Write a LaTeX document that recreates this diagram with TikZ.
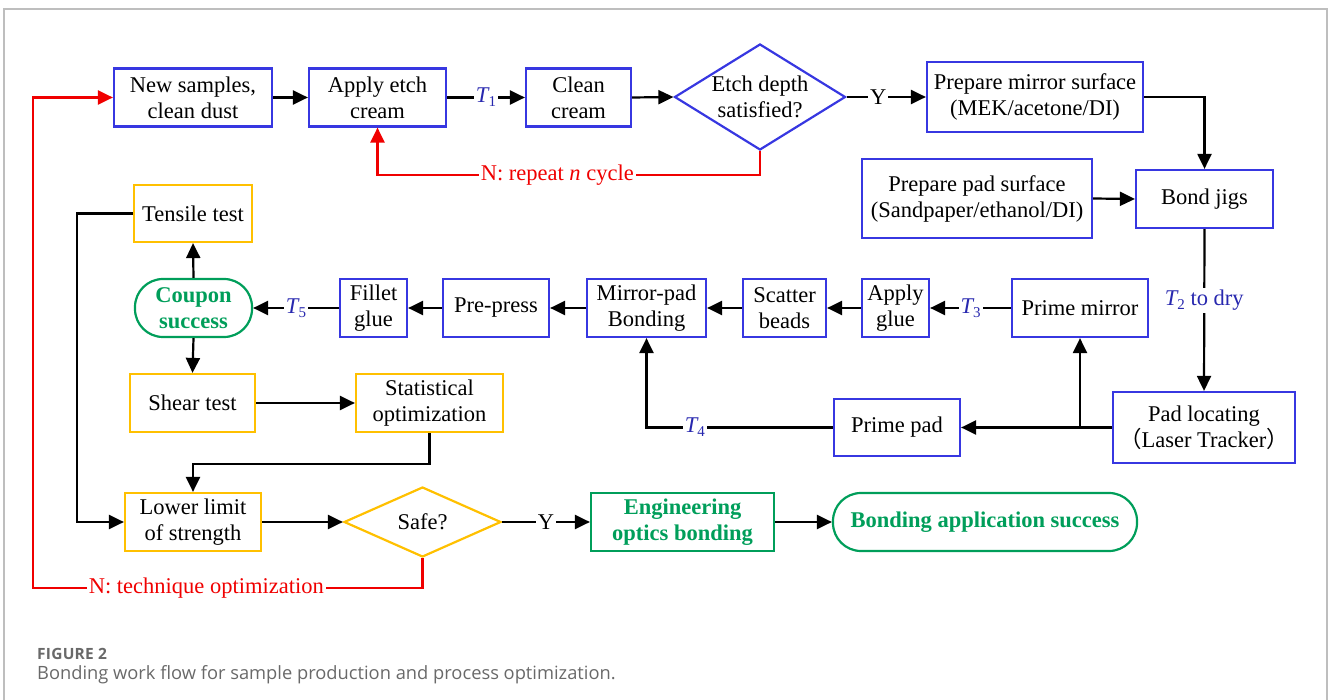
\documentclass[tikz,border=0pt]{standalone}
\usepackage{fontspec}
\setmainfont{Liberation Serif}
\newfontfamily\capfont{Open Sans}
\newfontfamily\capbold{Open Sans}[LetterSpace=1.5]
\newfontfamily\cjkfont{Noto Sans CJK SC}
\usetikzlibrary{arrows.meta,shapes.geometric,calc}
\definecolor{bxblue}{RGB}{55,55,225}
\definecolor{gold}{RGB}{255,192,0}
\definecolor{grn}{RGB}{0,158,90}
\definecolor{tblue}{RGB}{40,40,175}
\definecolor{rred}{RGB}{240,0,0}
\definecolor{framegray}{RGB}{190,190,190}
\definecolor{capgray}{RGB}{105,105,105}
\newcommand{\Tlab}[1]{{\itshape T}\raisebox{-4pt}{\fontsize{15}{15}\selectfont #1}}
\begin{document}
\begin{tikzpicture}[x=1pt,y=-1pt,
  sz/.style 2 args={minimum width=#1pt, minimum height=#2pt},
  box/.style={draw=bxblue, line width=2.2pt, align=center, inner sep=0pt, font=\fontsize{22.5}{26}\selectfont},
  ybox/.style={box, draw=gold},
  gbox/.style={box, draw=grn, text=grn, font=\fontsize{22.5}{26}\selectfont\bfseries},
  pill/.style={gbox, rounded corners=28pt},
  dia/.style={diamond, box, aspect=1.6},
  arr/.style={line width=2.2pt, -{Triangle[length=15pt,width=14pt]}},
  rarr/.style={arr, draw=rred},
  lbl/.style={fill=white, inner sep=2pt, font=\fontsize{22.5}{26}\selectfont},
  tlbl/.style={lbl, text=tblue},
  rlbl/.style={lbl, text=rred},
]
\useasboundingbox (0,0) rectangle (1328,700);
\draw[framegray, line width=1.5pt] (4,700) -- (4,9) -- (1327,9) -- (1327,700);

% top row
\node[box, sz={158}{58}] (ns) at (193,97.5) {New samples,\\clean dust};
\node[box, sz={137}{58}] (ae) at (377.5,97.5) {Apply etch\\cream};
\node[box, sz={105}{58}] (cc) at (578.5,97.5) {Clean\\cream};
\node[dia, sz={171}{106}] (ed) at (760,97) {Etch depth\\satisfied?};
\node[box, sz={216}{70}] (pm) at (1035,97) {Prepare mirror surface\\(MEK/acetone/DI)};
\node[box, sz={230}{79}] (pp) at (977,198.5) {Prepare pad surface\\(Sandpaper/ethanol/DI)};
\node[box, sz={137}{58}] (bj) at (1204.5,199) {Bond jigs};

% middle row
\node[box, sz={182}{71}] (pl) at (1204,427.5) {Pad locating\\{\cjkfont （}Laser Tracker{\cjkfont ）}};
\node[box, sz={126}{57}] (pr) at (897,427.5) {Prime pad};
\node[box, sz={136}{58}] (pmr) at (1080,308) {Prime mirror};
\node[box, sz={67}{58}] (ag) at (895.5,308) {Apply\\glue};
\node[box, sz={83}{58}] (sb) at (784.5,308) {Scatter\\beads};
\node[box, sz={119}{58}] (mp) at (646.5,308) {Mirror-pad\\Bonding};
\node[box, sz={106}{58}] (pre) at (496,308) {Pre-press};
\node[box, sz={67}{58}] (fg) at (373.5,308) {Fillet\\glue};
\node[pill, sz={117}{58}] (cs) at (193.5,308) {Coupon\\success};
\node[ybox, sz={118}{57}] (tt) at (193,213.5) {Tensile test};
\node[ybox, sz={125}{58}] (st) at (192.5,403) {Shear test};
\node[ybox, sz={147}{58}] (so) at (429.5,403) {Statistical\\optimization};

% bottom row
\node[ybox, sz={136}{58}] (ll) at (193,522) {Lower limit\\of strength};
\node[dia, draw=gold, sz={157}{70}] (sf) at (422.5,522) {Safe?};
\node[gbox, sz={183}{58}] (eo) at (682.5,522) {Engineering\\optics bonding};
\node[pill, sz={304}{58}] (bs) at (985,522) {Bonding application success};

% caption
\node[anchor=base west, inner sep=0pt, text=capgray, font=\capbold\bfseries\fontsize{15.5}{18}\selectfont] (fig) at (37,659) {FIGURE 2};
\node[anchor=base west, inner sep=0pt, text=capgray, font=\capfont\fontsize{18.3}{21}\selectfont] (cap) at (37,679) {Bonding work flow for sample production and process optimization.};

% connectors top
\draw[arr] (ns.east) -- (ae.west);
\draw[arr] (ae.east) -- node[tlbl]{\Tlab{1}} (cc.west);
\draw[arr] (cc.east) -- (ed.west);
\draw[arr] (ed.east) -- node[lbl, pos=0.4]{Y} (pm.west);
\draw[arr] (pm.east) -| (bj.north);
\draw[arr] (pp.east) -- (bj.west);
\draw[arr] (bj.south) -- node[tlbl, pos=0.44]{\Tlab{2} to dry} (pl.north);
\draw[rarr] (ed.south) -- ++(0,24) coordinate (r1) -- node[rlbl, pos=0.53]{N: repeat \textit{n} cycle} (r1 -| ae.south) -- (ae.south);

% connectors middle
\draw[arr] (pl.west) -- (pr.east);
\draw[arr] (pl.west -| pmr.south) -- (pmr.south);
\draw[arr] (pmr.west) -- node[tlbl]{\Tlab{3}} (ag.east);
\draw[arr] (ag.west) -- (sb.east);
\draw[arr] (sb.west) -- (mp.east);
\draw[arr] (mp.west) -- (pre.east);
\draw[arr] (pre.west) -- (fg.east);
\draw[arr] (fg.west) -- node[tlbl]{\Tlab{5}} (cs.east);
\draw[arr] (pr.west) -| node[tlbl, pos=0.37]{\Tlab{4}} (mp.south);
\draw[arr] (cs.north) -- (tt.south);
\draw[arr] (cs.south) -- (st.north);
\draw[arr] (st.east) -- (so.west);

% connectors bottom
\draw[arr] (so.south) -- ++(0,31) -| (ll.north);
\draw[arr] (tt.west) -- ++(-56,0) |- (ll.west);
\draw[arr] (ll.east) -- (sf.west);
\draw[arr] (sf.east) -- node[lbl]{Y} (eo.west);
\draw[arr] (eo.east) -- (bs.west);
\coordinate (rl) at (33,588);
\draw[rarr] (sf.south) -- (sf.south |- rl) -- node[rlbl, pos=0.555]{N: technique optimization} (rl) -- (rl |- ns.west) -- (ns.west);
\end{tikzpicture}
\end{document}
